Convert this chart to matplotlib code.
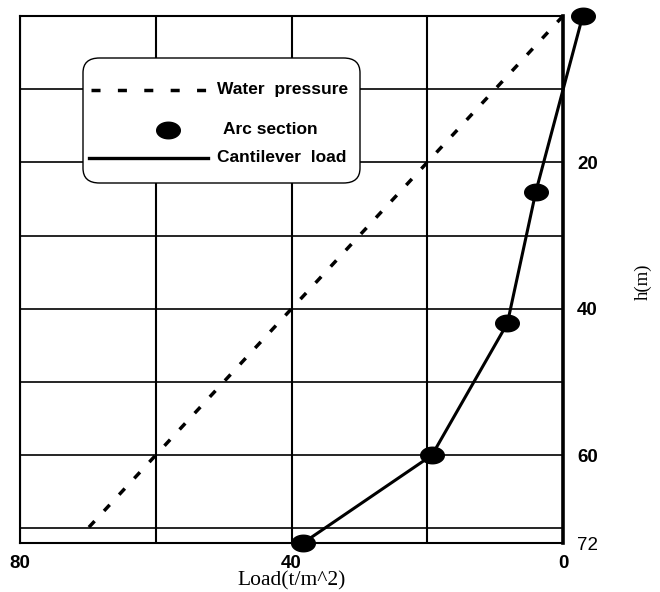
import matplotlib
matplotlib.use("Agg")
import matplotlib.pyplot as plt
from matplotlib.path import Path
from matplotlib.patches import FancyBboxPatch
from matplotlib.lines import Line2D
import numpy as np

# ---- data ----
water_load = [0, 70]
water_h = [0, 70]
arc_load = [-2.9, 4.0, 8.2, 19.3, 38.3]
arc_h = [0, 24, 42, 60, 72]
x_major = [80, 40, 0]
x_minor = [60, 20]
y_major = [20, 40, 60, 72]
y_minor = [10, 30, 50, 70]
y_labels = ["20", "40", "60", "72"]
legend_labels = ["Water  pressure", "Arc section", "Cantilever  load"]

# ellipse marker (wider than tall)
t = np.linspace(0, 2 * np.pi, 60)
ell = Path(np.column_stack([np.cos(t), 0.7 * np.sin(t)]), closed=True)

fig = plt.figure(figsize=(6.6, 5.92), dpi=100)
ax = fig.add_axes([20 / 660, 1 - 543 / 592, 543 / 660, 527 / 592])

ax.set_xlim(80, 0)
ax.set_ylim(72, 0)

ax.set_xticks(x_major)
ax.set_xticks(x_minor, minor=True)
ax.set_xticklabels([str(v) for v in x_major], fontfamily="Liberation Sans",
                   fontweight="bold", fontsize=13.5)
ax.set_yticks(y_major)
ax.set_yticks(y_minor, minor=True)
ax.yaxis.tick_right()
ax.set_yticklabels(y_labels, fontfamily="Liberation Sans", fontsize=13.5)
for lab in ax.get_yticklabels():
    if lab.get_text() != "72":
        lab.set_fontweight("bold")
ax.tick_params(axis="both", which="both", length=0)
ax.tick_params(axis="x", pad=9)
ax.tick_params(axis="y", pad=10)

# grid
for v in x_major + x_minor:
    ax.axvline(v, color="black", lw=1.5, zorder=1)
for v in [0] + y_major + y_minor:
    ax.axhline(v, color="black", lw=1.2, zorder=1)

for s in ["left", "top", "bottom"]:
    ax.spines[s].set_linewidth(1.5)
ax.spines["right"].set_linewidth(2.6)

# data lines
ax.plot(water_load, water_h, color="black", lw=2.5, ls=(0, (2.4, 4.0)),
        zorder=3, clip_on=False)
ax.plot(arc_load, arc_h, color="black", lw=2.2, zorder=4, clip_on=False)
ax.plot(arc_load, arc_h, ls="none", marker=ell, ms=17, color="black",
        zorder=5, clip_on=False)

ax.set_xlabel("Load(t/m^2)", fontfamily="Liberation Serif", fontsize=15.5,
              labelpad=-1)
ax.set_ylabel("h(m)", fontfamily="Liberation Serif", fontsize=13.5)
ax.yaxis.set_label_position("right")
ax.yaxis.label.set_rotation(90)
ax.yaxis.label.set_ha("center")
ax.yaxis.label.set_va("center")
ax.yaxis.set_label_coords((643 - 20) / 543, 1 - (282 - 16) / 527)

# manual legend (figure pixel coords -> figure fraction)
W, H = 660, 592
def fx(px):
    return px / W
def fy(py):
    return 1 - py / H

box = FancyBboxPatch((fx(83), fy(183)), fx(360) - fx(83), fy(58) - fy(183),
                     boxstyle="round,pad=0,rounding_size=0.025",
                     transform=fig.transFigure, facecolor="white",
                     edgecolor="black", lw=1.0, zorder=10)
ax.add_artist(box)
box.set_clip_on(False)

l1 = Line2D([fx(91), fx(208)], [fy(90), fy(90)], transform=fig.transFigure,
            color="black", lw=2.5, ls=(0, (2.6, 5.0)), zorder=11)
l2 = Line2D([fx(168)], [fy(130)], transform=fig.transFigure, color="black",
            marker=ell, ms=17, ls="none", zorder=11)
l3 = Line2D([fx(89), fx(208)], [fy(158), fy(158)], transform=fig.transFigure,
            color="black", lw=2.4, zorder=11)
for ln in (l1, l2, l3):
    ln.set_clip_on(False)
    ax.add_artist(ln)

txt_kw = dict(transform=fig.transFigure, fontfamily="Liberation Sans",
              fontweight="bold", fontsize=12.5, va="center", ha="left",
              zorder=12)
fig.text(fx(217), fy(90), legend_labels[0], **txt_kw)
fig.text(fx(223), fy(130), legend_labels[1], **txt_kw)
fig.text(fx(217), fy(158), legend_labels[2], **txt_kw)

fig.savefig("out.png", dpi=100)
